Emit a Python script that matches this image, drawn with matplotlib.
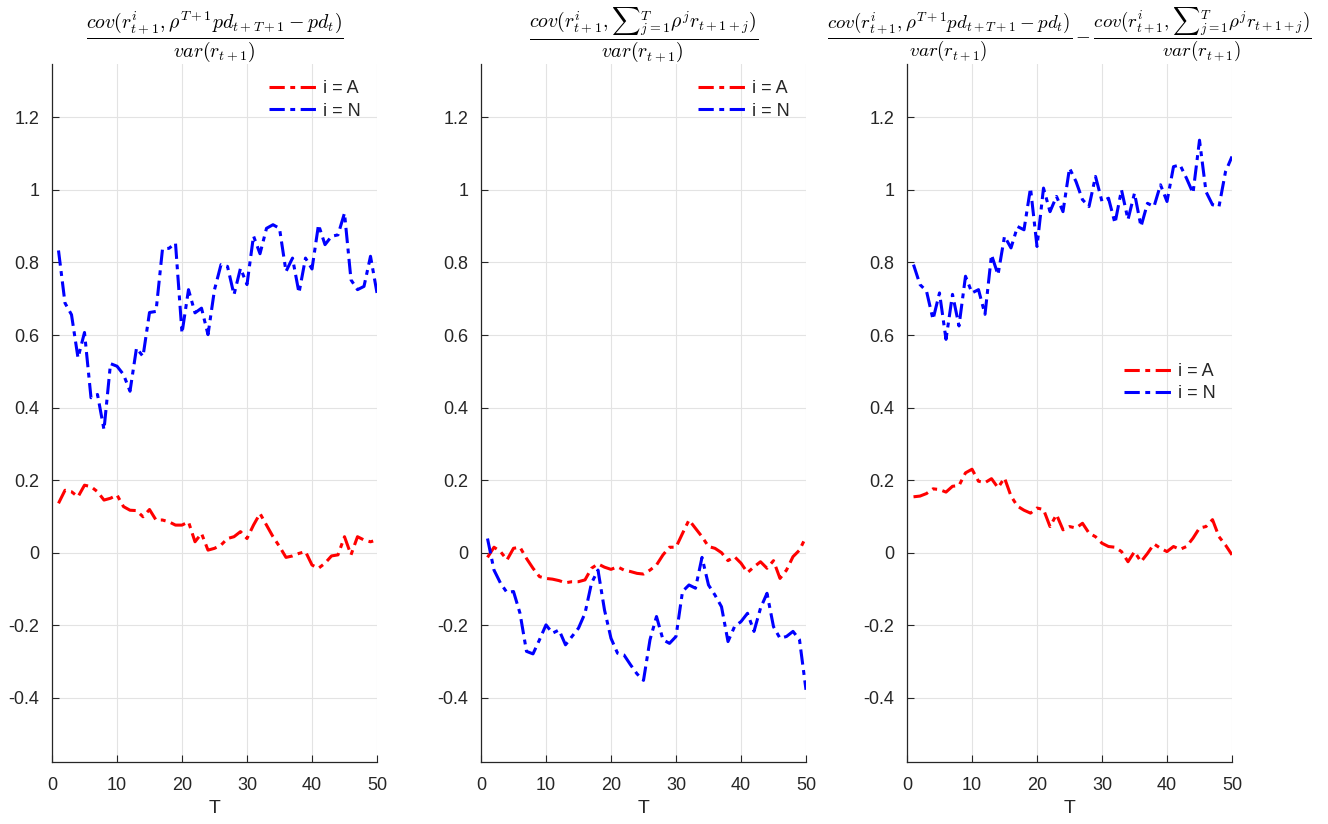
import numpy as np
import matplotlib
matplotlib.use("Agg")
import matplotlib.pyplot as plt

plt.rcParams["font.family"] = ["Liberation Sans", "DejaVu Sans"]
plt.rcParams["mathtext.fontset"] = "cm"

# ===== Data =====
T = np.arange(1, 51)

# panel 1: cov(r, rho^{T+1} pd - pd) / var(r)
p1_A = [0.136, 0.172, 0.168, 0.154, 0.186, 0.182, 0.168, 0.145, 0.150, 0.159,
        0.127, 0.117, 0.116, 0.099, 0.119, 0.090, 0.090, 0.085, 0.076, 0.076,
        0.085, 0.030, 0.053, 0.007, 0.012, 0.021, 0.039, 0.044, 0.058, 0.039,
        0.076, 0.108, 0.076, 0.044, 0.017, -0.013, -0.009, -0.002, 0.003, -0.034,
        -0.043, -0.029, -0.009, -0.006, 0.044, -0.006, 0.044, 0.035, 0.030, 0.035]
p1_N = [0.833, 0.688, 0.656, 0.537, 0.607, 0.427, 0.436, 0.339, 0.521, 0.514,
        0.491, 0.445, 0.564, 0.541, 0.662, 0.665, 0.837, 0.839, 0.853, 0.605,
        0.725, 0.661, 0.674, 0.601, 0.725, 0.794, 0.789, 0.711, 0.784, 0.739,
        0.873, 0.824, 0.894, 0.904, 0.894, 0.775, 0.812, 0.716, 0.812, 0.782,
        0.904, 0.849, 0.872, 0.876, 0.936, 0.752, 0.725, 0.734, 0.817, 0.716]

# panel 2: cov(r, sum rho^j r) / var(r)
p2_A = [-0.013, 0.015, 0.003, -0.020, 0.012, 0.015, -0.016, -0.043, -0.066, -0.071,
        -0.073, -0.077, -0.083, -0.080, -0.080, -0.075, -0.043, -0.031, -0.040, -0.046,
        -0.039, -0.048, -0.052, -0.057, -0.059, -0.048, -0.034, -0.006, 0.015, 0.015,
        0.053, 0.090, 0.067, 0.044, 0.017, 0.012, 0.000, -0.022, -0.011, -0.029,
        -0.055, -0.039, -0.025, -0.043, -0.022, -0.071, -0.048, -0.011, 0.007, 0.044]
p2_N = [0.039, -0.048, -0.084, -0.110, -0.107, -0.167, -0.272, -0.279, -0.240, -0.199,
        -0.222, -0.213, -0.254, -0.231, -0.208, -0.167, -0.084, -0.048, -0.158, -0.236,
        -0.277, -0.282, -0.309, -0.334, -0.352, -0.240, -0.176, -0.240, -0.250, -0.231,
        -0.107, -0.089, -0.098, -0.013, -0.089, -0.117, -0.149, -0.245, -0.204, -0.190,
        -0.167, -0.217, -0.153, -0.112, -0.204, -0.236, -0.231, -0.217, -0.240, -0.378]

# panel 3: difference
p3_A = [0.154, 0.156, 0.163, 0.176, 0.174, 0.167, 0.183, 0.185, 0.220, 0.230,
        0.197, 0.193, 0.204, 0.179, 0.206, 0.156, 0.128, 0.117, 0.109, 0.123,
        0.119, 0.072, 0.105, 0.063, 0.072, 0.068, 0.081, 0.054, 0.044, 0.026,
        0.017, 0.015, 0.003, -0.025, 0.003, -0.025, -0.002, 0.024, 0.012, 0.003,
        0.017, 0.009, 0.017, 0.040, 0.068, 0.072, 0.091, 0.044, 0.021, -0.006]
p3_N = [0.794, 0.739, 0.721, 0.643, 0.716, 0.588, 0.712, 0.625, 0.762, 0.716,
        0.725, 0.657, 0.821, 0.766, 0.872, 0.840, 0.899, 0.890, 1.005, 0.844,
        1.005, 0.940, 0.982, 0.940, 1.060, 1.023, 0.973, 0.954, 1.037, 0.968,
        0.977, 0.908, 1.000, 0.918, 0.991, 0.899, 0.963, 0.954, 1.014, 0.968,
        1.064, 1.069, 1.032, 0.991, 1.137, 0.995, 0.959, 0.954, 1.050, 1.092]

TITLE1 = r"$\dfrac{cov(r^i_{t+1},\rho^{T+1}pd_{t+T+1}-pd_t)}{var(r_{t+1})}$"
TITLE2 = r"$\dfrac{cov(r^i_{t+1},{\sum}_{j=1}^{T}\rho^j r_{t+1+j})}{var(r_{t+1})}$"
TITLE3 = (r"$\dfrac{cov(r^i_{t+1},\rho^{T+1}pd_{t+T+1}-pd_t)}{var(r_{t+1})}"
          r"-\dfrac{cov(r^i_{t+1},{\sum}_{j=1}^{T}\rho^j r_{t+1+j})}{var(r_{t+1})}$")

panels = [
    (p1_A, p1_N, TITLE1, 14.3, 1.0),
    (p2_A, p2_N, TITLE2, 14.3, 1.0),
    (p3_A, p3_N, TITLE3, 13.6, 0.595),
]

# ===== Figure =====
fig = plt.figure(figsize=(13.28, 8.24), dpi=100)
lefts = [52 / 1328, 481 / 1328, 907 / 1328]
AX_C = "#262626"
DASHDOT = (0, (5, 1.8, 1.6, 1.8))

for left, (a_vals, n_vals, title, title_fs, leg_y) in zip(lefts, panels):
    ax = fig.add_axes([left, 62 / 824, 325 / 1328, 698 / 824])
    ax.plot(T, a_vals, color="red", ls=DASHDOT, lw=2.2, label="i = A")
    ax.plot(T, n_vals, color="blue", ls=DASHDOT, lw=2.2, label="i = N")

    ax.set_xlim(0, 50)
    ax.set_ylim(-0.577, 1.347)
    ax.set_xticks([0, 10, 20, 30, 40, 50])
    ax.set_yticks([-0.4, -0.2, 0, 0.2, 0.4, 0.6, 0.8, 1, 1.2])
    ax.set_yticklabels(["-0.4", "-0.2", "0", "0.2", "0.4", "0.6", "0.8", "1", "1.2"])
    ax.grid(True, color="#e3e3e3", lw=0.8)
    ax.set_axisbelow(True)
    for s in ["top", "right"]:
        ax.spines[s].set_visible(False)
    for s in ["left", "bottom"]:
        ax.spines[s].set_color(AX_C)
        ax.spines[s].set_linewidth(0.9)
    ax.tick_params(direction="in", length=5, width=0.8, colors=AX_C,
                   labelsize=13, labelcolor=AX_C)
    ax.tick_params(axis="x", pad=11)
    ax.tick_params(axis="y", pad=9)
    ax.set_xlabel("T", fontsize=14, color=AX_C, labelpad=4)
    ax.set_title(title, fontsize=title_fs, pad=4)

    leg = ax.legend(loc="upper right", bbox_to_anchor=(1.0, leg_y),
                    frameon=False, fontsize=13, handlelength=2.6,
                    handletextpad=0.4, labelspacing=0.3)
    for txt in leg.get_texts():
        txt.set_color(AX_C)

fig.savefig("out.png", dpi=100, facecolor="white")
